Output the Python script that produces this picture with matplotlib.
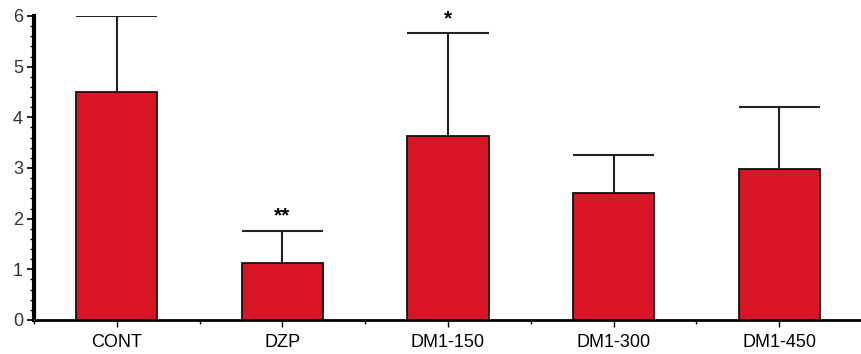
import numpy as np
import matplotlib.pyplot as plt
from matplotlib.ticker import MultipleLocator

groups = ['CONT', 'DZP', 'DM1-150', 'DM1-300', 'DM1-450']
means = [4.5, 1.12, 3.63, 2.5, 2.98]
errs = [1.5, 0.64, 2.03, 0.75, 1.22]
stars = ['', '**', '*', '', '']

plt.rcParams['font.family'] = ['Liberation Sans', 'DejaVu Sans']

fig = plt.figure(figsize=(8.62, 3.54), dpi=100)
ax = fig.add_axes([34/862, 34/354, 1 - 34/862, 304/354])

x = np.arange(len(groups))
w = 0.49
means = np.array(means)
errs = np.array(errs)
ax.bar(x, means, width=w, color='#d71526', edgecolor='#111111', linewidth=1.3, zorder=2)
# upper-only error bars, cap as wide as the bar
ax.vlines(x, means, means + errs, color='#222222', linewidth=1.5, zorder=1)
ax.hlines(means + errs, x - w/2, x + w/2, color='#222222', linewidth=1.5, zorder=1)

for xi, m, e, s in zip(x, means, errs, stars):
    if s:
        ax.text(xi, m + e + 0.1, s, ha='center', va='bottom', fontsize=15, fontweight='bold')

ax.set_xlim(-0.5, 4.5)
ax.set_ylim(0, 6)
ax.set_xticks(x)
ax.set_xticklabels(groups, fontsize=13)
ax.xaxis.set_minor_locator(MultipleLocator(1, offset=0.5))
ax.yaxis.set_major_locator(MultipleLocator(1))
ax.yaxis.set_minor_locator(MultipleLocator(0.2))
ax.tick_params(axis='y', labelsize=13, labelcolor='#333333', length=5, width=1.2, pad=3)
ax.tick_params(axis='y', which='minor', length=3, width=1)
ax.tick_params(axis='x', length=5, width=1, pad=5)
ax.tick_params(axis='x', which='minor', length=3, width=1)

for side in ['top', 'right']:
    ax.spines[side].set_visible(False)
ax.spines['left'].set_linewidth(3)
ax.spines['bottom'].set_linewidth(2)

fig.savefig('out.png', dpi=100)
